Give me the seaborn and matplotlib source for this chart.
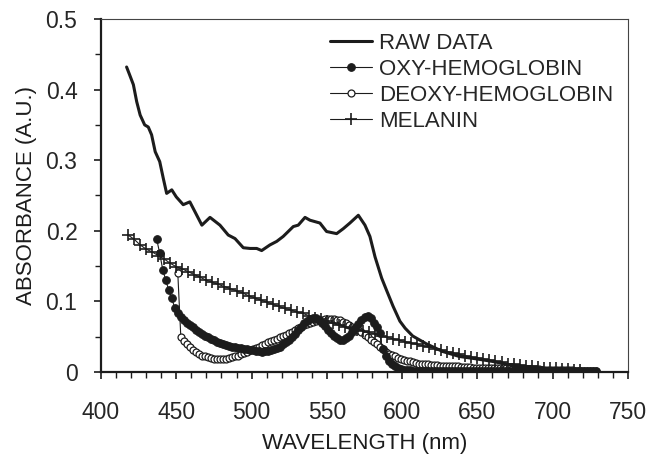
import numpy as np
import pandas as pd
import matplotlib
matplotlib.use('Agg')
import matplotlib.pyplot as plt
import seaborn as sns
from matplotlib.ticker import MultipleLocator, FuncFormatter

# raw spectrum (nm, A.U.)
raw_wl = [417, 419, 421.5, 423.7, 426, 429, 431.4, 433.6, 436, 439,
          441.4, 443.6, 447, 450, 454.6, 459, 462.4, 467, 472.4, 479,
          484.5, 489, 494.5, 499, 503.4, 506.7, 512.2, 516.7, 521, 527.7,
          531, 535.5, 538.8, 545.4, 549.8, 556.5, 560.9, 565.3, 570.9, 575.3,
          578.6, 582, 586.4, 589.6, 594, 598.5, 602, 607, 616, 627,
          638, 648, 660, 667, 675, 685, 700, 715, 730]
raw_abs = [0.432, 0.421, 0.407, 0.383, 0.364, 0.350, 0.347, 0.336, 0.312, 0.298,
           0.274, 0.253, 0.258, 0.248, 0.237, 0.241, 0.227, 0.208, 0.219, 0.208,
           0.194, 0.189, 0.176, 0.175, 0.175, 0.172, 0.180, 0.185, 0.192, 0.206,
           0.208, 0.219, 0.215, 0.211, 0.199, 0.196, 0.203, 0.211, 0.222, 0.208,
           0.192, 0.163, 0.133, 0.116, 0.093, 0.072, 0.062, 0.051, 0.040, 0.029,
           0.022, 0.019, 0.015, 0.012, 0.008, 0.005, 0.003, 0.002, 0.002]

# oxy-hemoglobin, every 2 nm from 437
oxy_wl = np.arange(437, 730, 2)
oxy_abs = [0.188, 0.168, 0.145, 0.130, 0.116, 0.105, 0.090, 0.083, 0.078, 0.074,
           0.070, 0.067, 0.064, 0.060, 0.056, 0.054, 0.051, 0.049, 0.047, 0.045,
           0.043, 0.041, 0.040, 0.038, 0.037, 0.036, 0.035, 0.034, 0.034, 0.033,
           0.032, 0.031, 0.031, 0.030, 0.030, 0.029, 0.030, 0.030, 0.031, 0.032,
           0.034, 0.036, 0.039, 0.042, 0.046, 0.050, 0.054, 0.059, 0.064, 0.069,
           0.072, 0.075, 0.076, 0.076, 0.073, 0.069, 0.065, 0.060, 0.055, 0.051,
           0.048, 0.046, 0.046, 0.048, 0.051, 0.056, 0.062, 0.068, 0.074, 0.078,
           0.079, 0.076, 0.070, 0.064, 0.055, 0.033, 0.022, 0.016, 0.012, 0.009,
           0.006, 0.004, 0.003, 0.003, 0.003, 0.002, 0.002, 0.002, 0.002, 0.002,
           0.002, 0.002, 0.002, 0.002, 0.002, 0.002, 0.002, 0.002, 0.002, 0.002,
           0.002, 0.002, 0.002, 0.002, 0.002, 0.002, 0.002, 0.002, 0.002, 0.002,
           0.002, 0.002, 0.002, 0.002, 0.002, 0.002, 0.002, 0.002, 0.002, 0.002,
           0.002, 0.002, 0.002, 0.002, 0.002, 0.002, 0.002, 0.002, 0.002, 0.002,
           0.002, 0.002, 0.002, 0.002, 0.002, 0.002, 0.002, 0.002, 0.002, 0.002,
           0.002, 0.002, 0.002, 0.002, 0.002, 0.002, 0.002]

# deoxy-hemoglobin, every 2 nm from 451
deoxy_wl = np.arange(451, 730, 2)
deoxy_abs = [0.140, 0.050, 0.044, 0.040, 0.035, 0.031, 0.028, 0.025, 0.023, 0.022,
             0.021, 0.020, 0.019, 0.019, 0.019, 0.019, 0.019, 0.020, 0.021, 0.022,
             0.023, 0.025, 0.027, 0.029, 0.031, 0.033, 0.034, 0.036, 0.038, 0.040,
             0.042, 0.044, 0.045, 0.047, 0.049, 0.051, 0.053, 0.055, 0.057, 0.059,
             0.062, 0.064, 0.066, 0.068, 0.070, 0.071, 0.072, 0.073, 0.074, 0.075,
             0.075, 0.075, 0.075, 0.074, 0.073, 0.071, 0.069, 0.067, 0.064, 0.062,
             0.059, 0.056, 0.053, 0.050, 0.046, 0.042, 0.039, 0.036, 0.032, 0.029,
             0.026, 0.024, 0.022, 0.020, 0.018, 0.017, 0.016, 0.015, 0.014, 0.013,
             0.012, 0.012, 0.011, 0.011, 0.010, 0.010, 0.010, 0.009, 0.009, 0.009,
             0.008, 0.008, 0.008, 0.008, 0.007, 0.007, 0.007, 0.007, 0.006, 0.006,
             0.006, 0.006, 0.006, 0.005, 0.005, 0.005, 0.005, 0.005, 0.005, 0.005,
             0.005, 0.004, 0.004, 0.004, 0.004, 0.004, 0.004, 0.004, 0.004, 0.004,
             0.004, 0.003, 0.003, 0.003, 0.003, 0.003, 0.003, 0.003, 0.003, 0.003,
             0.003, 0.003, 0.002, 0.002, 0.002, 0.002, 0.002, 0.002, 0.002, 0.002]

# melanin, every 4 nm from 418
melanin_wl = np.arange(418, 719, 4)
melanin_abs = [0.194, 0.188, 0.180, 0.174, 0.170, 0.165, 0.160, 0.154, 0.149, 0.146,
               0.142, 0.138, 0.134, 0.130, 0.127, 0.124, 0.121, 0.118, 0.115, 0.112,
               0.108, 0.105, 0.102, 0.099, 0.096, 0.093, 0.090, 0.088, 0.085, 0.083,
               0.080, 0.077, 0.075, 0.072, 0.069, 0.066, 0.064, 0.062, 0.060, 0.058,
               0.056, 0.054, 0.051, 0.049, 0.047, 0.045, 0.043, 0.041, 0.039, 0.037,
               0.035, 0.033, 0.031, 0.029, 0.027, 0.025, 0.023, 0.021, 0.020, 0.018,
               0.017, 0.015, 0.014, 0.012, 0.011, 0.010, 0.009, 0.008, 0.007, 0.006,
               0.005, 0.005, 0.004, 0.004, 0.003, 0.003]

sns.set_style('ticks')
plt.rcParams['font.family'] = ['Liberation Sans', 'DejaVu Sans']
plt.rcParams['font.size'] = 16

ink = '#1c1c1c'
fig = plt.figure(figsize=(6.5, 4.62), dpi=100)
ax = fig.add_axes([101/650, 1 - 372/462, 527/650, 353/462])

sns.lineplot(x=raw_wl, y=raw_abs, ax=ax, color=ink, linewidth=2.2,
             label='RAW DATA', zorder=5, sort=False)
sns.lineplot(x=oxy_wl, y=oxy_abs, ax=ax, color=ink, linewidth=0.8,
             marker='o', markersize=5.5, markerfacecolor=ink, markeredgecolor=ink,
             label='OXY-HEMOGLOBIN', zorder=3, sort=False)
sns.lineplot(x=deoxy_wl, y=deoxy_abs, ax=ax, color=ink, linewidth=0.8,
             marker='o', markersize=5, markerfacecolor='white', markeredgecolor=ink,
             markeredgewidth=0.9, label='DEOXY-HEMOGLOBIN', zorder=2, sort=False)
sns.lineplot(x=melanin_wl, y=melanin_abs, ax=ax, color=ink, linewidth=0.8,
             marker='+', markersize=8, markeredgewidth=1.2, markeredgecolor=ink,
             label='MELANIN', zorder=4, sort=False)

ax.set_xlim(400, 750)
ax.set_ylim(0, 0.5)
ax.xaxis.set_major_locator(MultipleLocator(50))
ax.xaxis.set_minor_locator(MultipleLocator(10))
ax.yaxis.set_major_locator(MultipleLocator(0.1))
ax.yaxis.set_minor_locator(MultipleLocator(0.05))
ax.yaxis.set_major_formatter(FuncFormatter(lambda v, _: f'{v:g}'))

ax.tick_params(axis='x', which='major', length=5, width=1.2, pad=16, labelsize=16.5, color=ink)
ax.tick_params(axis='x', which='minor', length=4, width=1.0, color=ink)
ax.tick_params(axis='y', which='major', length=5, width=1.2, pad=12, labelsize=16.5, color=ink)
ax.tick_params(axis='y', which='minor', length=4, width=1.0, color=ink)

for side in ['left', 'bottom']:
    ax.spines[side].set_linewidth(1.6)
    ax.spines[side].set_color(ink)
for side in ['top', 'right']:
    ax.spines[side].set_linewidth(0.8)
    ax.spines[side].set_color('#444444')

ax.set_xlabel('WAVELENGTH (nm)', fontsize=16, color=ink)
ax.set_ylabel('ABSORBANCE (A.U.)', fontsize=16, color=ink)
ax.xaxis.set_label_coords(0.5, -0.172)
ax.yaxis.set_label_coords(-0.122, 0.5)

ax.legend(loc='upper left', bbox_to_anchor=(330/650, 1 - 33/462),
          bbox_transform=fig.transFigure, frameon=False, fontsize=16,
          handlelength=1.9, handletextpad=0.3, labelspacing=0.22,
          borderpad=0, borderaxespad=0)

fig.savefig('out.png', dpi=100)
